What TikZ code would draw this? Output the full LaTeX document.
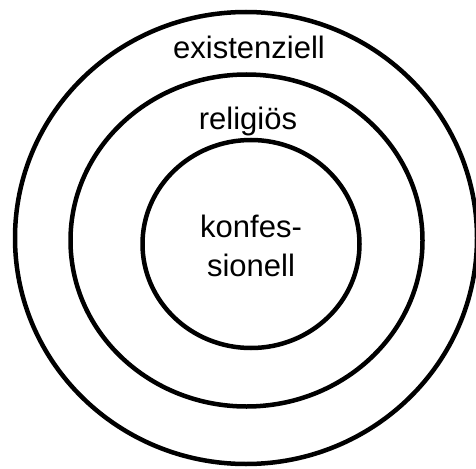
\documentclass[tikz,border=0pt]{standalone}
\usepackage{fontspec}
\setmainfont{Liberation Sans}
\usetikzlibrary{shapes.geometric}
\begin{document}
\begin{tikzpicture}[x=1pt,y=-1pt,
  ring/.style={draw=black, line width=4.5pt, ellipse, inner sep=0pt, outer sep=0pt},
  lbl/.style={font=\fontsize{31}{39}\selectfont, inner sep=0pt, align=center}]
\useasboundingbox (0,0) rectangle (476,468);
\node[ring, minimum width=462pt, minimum height=452pt] (outer) at (246,238) {};
\node[ring, minimum width=352pt, minimum height=332pt] (middle) at (246.5,240.5) {};
\node[ring, minimum width=217pt, minimum height=208pt] (inner) at (251,244) {};
\node[lbl] (ex) at (249,47) {existenziell};
\node[lbl] (rel) at (248,121) {religiös};
\node[lbl] (konf) at (251,246) {konfes-\\sionell};
\end{tikzpicture}
\end{document}
